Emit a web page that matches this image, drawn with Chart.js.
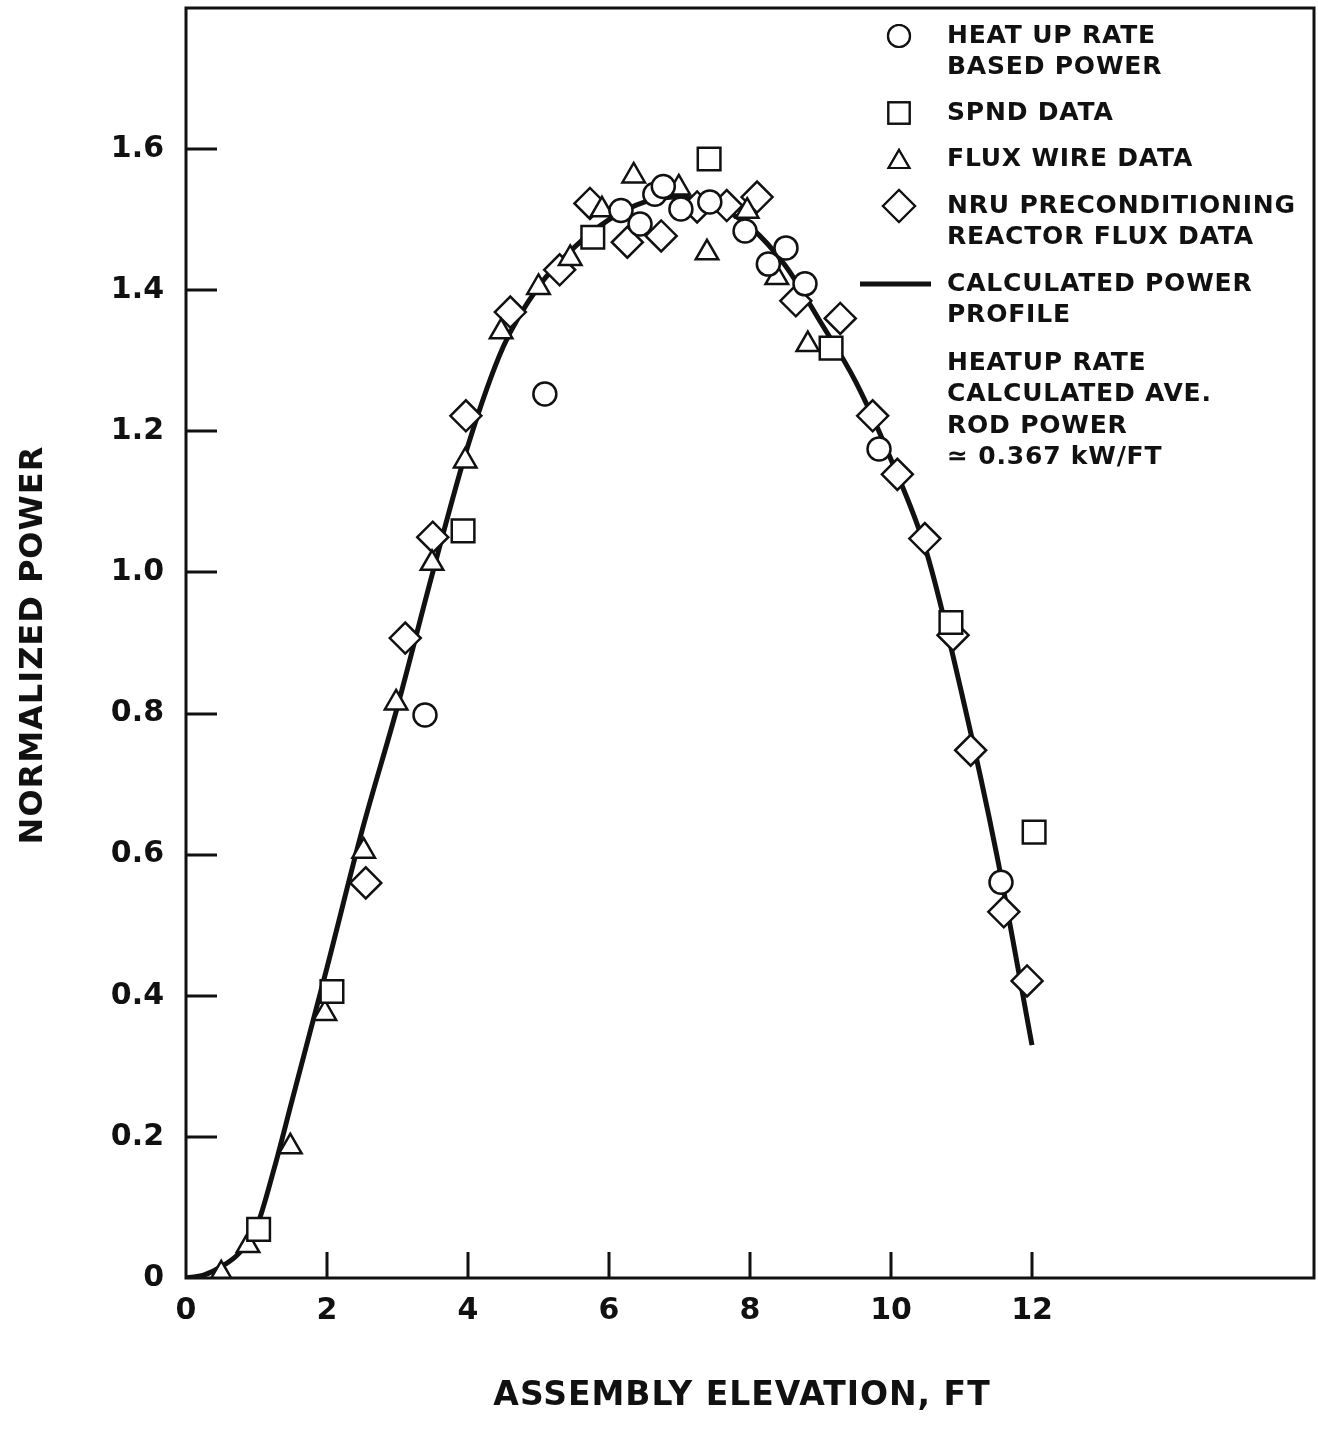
<!DOCTYPE html>
<html>
<head>
<meta charset="utf-8">
<script src="https://cdn.jsdelivr.net/npm/chart.js@4"></script>
<style>
  html, body { margin: 0; padding: 0; background: #fff; }
  canvas { display: block; }
</style>
</head>
<body>
<canvas id="chart" width="1318" height="1440"></canvas>
<script>
// data (elevation ft, normalized power)
const heatupX = [3.39, 5.09, 6.17, 6.44, 6.65, 6.77, 7.02, 7.43, 7.93, 8.26, 8.51, 8.78, 9.83, 11.56];
const heatupY = [0.798, 1.253, 1.513, 1.494, 1.536, 1.547, 1.515, 1.525, 1.484, 1.437, 1.46, 1.409, 1.175, 0.561];

const spndX = [1.03, 2.07, 3.93, 5.77, 7.42, 9.15, 10.85, 12.03];
const spndY = [0.069, 0.406, 1.059, 1.475, 1.586, 1.318, 0.929, 0.632];

const fluxX = [0.5, 0.88, 1.48, 1.97, 2.52, 2.98, 3.49, 3.96, 4.47, 5.0, 5.45, 5.9, 6.35, 6.99, 7.39, 7.96, 8.38, 8.82];
const fluxY = [0.006, 0.046, 0.186, 0.375, 0.605, 0.815, 1.013, 1.158, 1.341, 1.404, 1.445, 1.514, 1.562, 1.545, 1.453, 1.512, 1.418, 1.323];

const nruX = [2.55, 3.11, 3.5, 3.97, 4.6, 5.3, 5.73, 6.26, 6.74, 7.25, 7.67, 8.1, 8.65, 9.28, 9.74, 10.09, 10.48, 10.88, 11.13, 11.6, 11.93];
const nruY = [0.56, 0.907, 1.05, 1.222, 1.369, 1.429, 1.523, 1.468, 1.477, 1.518, 1.52, 1.532, 1.385, 1.36, 1.222, 1.139, 1.048, 0.911, 0.748, 0.519, 0.421];

const calcX = [0, 0.25, 0.5, 0.75, 1, 1.25, 1.5, 1.75, 2, 2.5, 3, 3.5, 4, 4.5, 5, 5.5, 6, 6.5, 7, 7.5, 8, 8.5, 9, 9.5, 10, 10.5, 11, 11.5, 12];
const calcY = [0, 0.004, 0.016, 0.035, 0.072, 0.155, 0.25, 0.345, 0.44, 0.635, 0.81, 1.0, 1.18, 1.32, 1.405, 1.46, 1.5, 1.525, 1.532, 1.52, 1.49, 1.435, 1.355, 1.27, 1.16, 1.03, 0.83, 0.6, 0.33];

const xTickValues = [0, 2, 4, 6, 8, 10, 12];
const xTickLabels = ['0', '2', '4', '6', '8', '10', '12'];
const yTickValues = [0, 0.2, 0.4, 0.6, 0.8, 1.0, 1.2, 1.4, 1.6];
const yTickLabels = ['0', '0.2', '0.4', '0.6', '0.8', '1.0', '1.2', '1.4', '1.6'];

const legendItems = [
  { style: 'circle', lines: ['HEAT UP RATE', 'BASED POWER'] },
  { style: 'rect', lines: ['SPND DATA'] },
  { style: 'triangle', lines: ['FLUX WIRE DATA'] },
  { style: 'rectRot', lines: ['NRU PRECONDITIONING', 'REACTOR FLUX DATA'] },
  { style: 'line', lines: ['CALCULATED POWER', 'PROFILE'] },
  { style: null, lines: ['HEATUP RATE', 'CALCULATED AVE.', 'ROD POWER', '\u2243 0.367 kW/FT'] }
];

const xTitle = 'ASSEMBLY ELEVATION, FT';
const yTitle = 'NORMALIZED POWER';

const INK = '#111';
const FONT = '"DejaVu Sans", sans-serif';

const toPoints = (xs, ys) => xs.map((x, i) => ({ x: x, y: ys[i] }));

const markerRadius = { circle: 11.5, rect: 16, triangle: 13, rectRot: 15.5 };

function markerSet(label, xs, ys, style) {
  return {
    label: label,
    data: toPoints(xs, ys),
    pointStyle: style,
    pointRadius: markerRadius[style],
    pointBorderWidth: 2.5,
    pointBorderColor: INK,
    pointBackgroundColor: '#fff',
    showLine: false,
    order: 1
  };
}

// frame, inside ticks, tick labels, axis titles and the legend block
const framePlugin = {
  id: 'frame',
  afterDraw(chart) {
    const ctx = chart.ctx;
    const a = chart.chartArea;
    const xs = chart.scales.x, ys = chart.scales.y;
    ctx.save();
    ctx.strokeStyle = INK;
    ctx.lineWidth = 3;
    ctx.strokeRect(a.left, a.top, a.right - a.left, a.bottom - a.top);

    ctx.beginPath();
    yTickValues.slice(1).forEach(v => {
      const py = Math.round(ys.getPixelForValue(v));
      ctx.moveTo(a.left, py);
      ctx.lineTo(a.left + 31, py);
    });
    xTickValues.slice(1).forEach(v => {
      const px = Math.round(xs.getPixelForValue(v));
      ctx.moveTo(px, a.bottom);
      ctx.lineTo(px, a.bottom - 26);
    });
    ctx.stroke();

    ctx.fillStyle = INK;
    ctx.font = 'bold 30px ' + FONT;
    ctx.textBaseline = 'middle';
    ctx.textAlign = 'right';
    yTickValues.forEach((v, i) => ctx.fillText(yTickLabels[i], a.left - 22, ys.getPixelForValue(v)));
    ctx.textAlign = 'center';
    xTickValues.forEach((v, i) => ctx.fillText(xTickLabels[i], xs.getPixelForValue(v), a.bottom + 33));

    ctx.font = 'bold 33px ' + FONT;
    ctx.letterSpacing = '1px';
    ctx.fillText(xTitle, (a.left + a.right) / 2 - 8, 1396);

    ctx.save();
    ctx.translate(34, (a.top + a.bottom) / 2 + 2);
    ctx.rotate(-Math.PI / 2);
    ctx.font = 'bold 32px ' + FONT;
    ctx.fillText(yTitle, 0, 0);
    ctx.restore();

    // legend
    ctx.font = 'bold 25px ' + FONT;
    ctx.textAlign = 'left';
    ctx.letterSpacing = '0.8px';
    const textX = 947, markX = 899, lineH = 31.5;
    const rows = [36, 113, 159, 206, 284, 363];
    legendItems.forEach((item, i) => {
      const y0 = rows[i];
      if (item.style === 'line') {
        ctx.lineWidth = 5;
        ctx.beginPath();
        ctx.moveTo(860, y0);
        ctx.lineTo(931, y0);
        ctx.stroke();
      } else if (item.style) {
        ctx.lineWidth = 2.2;
        ctx.fillStyle = '#fff';
        const r = { circle: 11, rect: 15, triangle: 12, rectRot: 16 }[item.style];
        Chart.helpers.drawPoint(ctx, { pointStyle: item.style, radius: r, borderWidth: 2.2, rotation: 0 }, markX, y0 + (item.style === 'triangle' ? 3 : 0));
        ctx.fill();
        ctx.stroke();
        ctx.fillStyle = INK;
      }
      item.lines.forEach((t, k) => ctx.fillText(t, textX, y0 + k * lineH));
    });
    ctx.restore();
  }
};

new Chart(document.getElementById('chart'), {
  type: 'scatter',
  data: {
    datasets: [
      markerSet('HEAT UP RATE BASED POWER', heatupX, heatupY, 'circle'),
      markerSet('SPND DATA', spndX, spndY, 'rect'),
      markerSet('FLUX WIRE DATA', fluxX, fluxY, 'triangle'),
      markerSet('NRU PRECONDITIONING REACTOR FLUX DATA', nruX, nruY, 'rectRot'),
      {
        label: 'CALCULATED POWER PROFILE',
        data: toPoints(calcX, calcY),
        showLine: true,
        borderColor: INK,
        borderWidth: 5,
        pointRadius: 0,
        cubicInterpolationMode: 'monotone',
        order: 10
      }
    ]
  },
  options: {
    responsive: false,
    animation: false,
    layout: { autoPadding: false, padding: { top: 8, right: 4, left: 0, bottom: 0 } },
    plugins: { legend: { display: false }, tooltip: { enabled: false } },
    scales: {
      x: {
        type: 'linear',
        min: 0,
        max: 16,
        grid: { display: false, drawTicks: false },
        border: { display: false },
        ticks: { display: false, stepSize: 2 },
        afterFit: s => { s.height = 162; }
      },
      y: {
        type: 'linear',
        min: 0,
        max: 1.8,
        grid: { display: false, drawTicks: false },
        border: { display: false },
        ticks: { display: false, stepSize: 0.2 },
        afterFit: s => { s.width = 186; }
      }
    }
  },
  plugins: [framePlugin]
});
</script>
</body>
</html>
